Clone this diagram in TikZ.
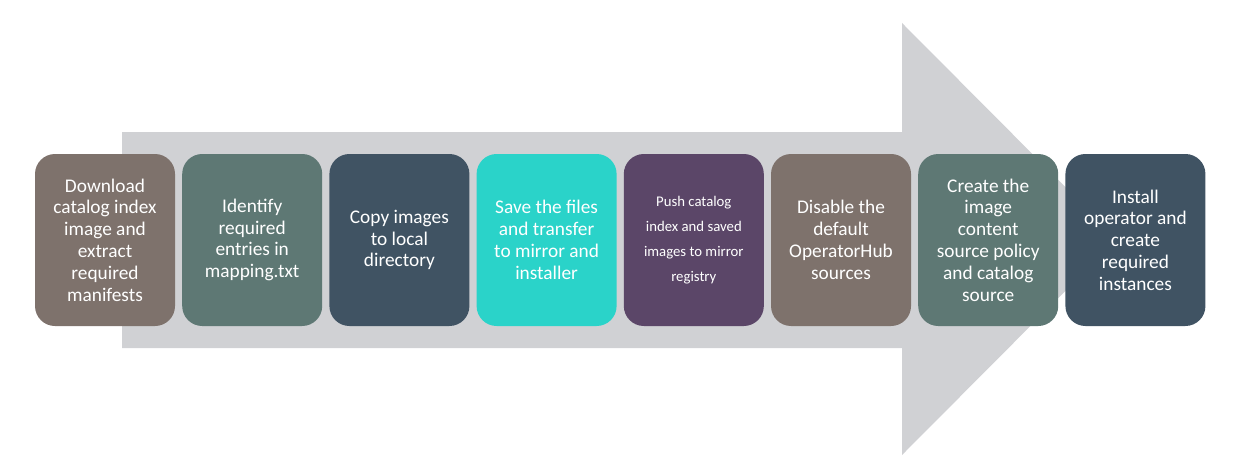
\documentclass[tikz,border=0pt]{standalone}
\usepackage{fontspec}
\setmainfont{Carlito}
\usetikzlibrary{positioning}
\usepackage{xcolor}
\definecolor{arrowgray}{HTML}{D0D1D4}
\definecolor{taupe}{HTML}{7E726C}
\definecolor{sage}{HTML}{5E7874}
\definecolor{slate}{HTML}{405363}
\definecolor{aqua}{HTML}{2AD3C9}
\definecolor{plum}{HTML}{5B4668}

\begin{document}
\begin{tikzpicture}[
  node distance=0.13cm,
  stepbox/.style={rounded corners=0.4cm, minimum width=2.8cm,
              minimum height=3.44cm, inner sep=0pt, text=white,
              font=\fontsize{11}{12.4}\selectfont, align=center},
  bigarrow/.style={fill=arrowgray}
]
  \useasboundingbox (0,0) rectangle (24.8,9.46);
  % background arrow
  \fill[bigarrow] (2.44,2.5) -- (2.44,6.82) -- (18.04,6.82) -- (18.04,9.0)
        -- (22.34,4.68) -- (18.04,0.36) -- (18.04,2.5) -- cycle;

  \node[stepbox, fill=taupe] (dl) at (2.1,4.66)
        {Download\\catalog index\\image and\\extract\\required\\manifests};
  \node[stepbox, fill=sage, right=of dl] (ident)
        {Identify\\required\\entries in\\mapping.txt};
  \node[stepbox, fill=slate, right=of ident] (copy)
        {Copy images\\to local\\directory};
  \node[stepbox, fill=aqua, right=of copy] (save)
        {Save the files\\and transfer\\to mirror and\\installer};
  \node[stepbox, fill=plum, right=of save,
        font=\fontsize{8.4}{14.2}\selectfont] (push)
        {Push catalog\\index and saved\\images to mirror\\registry};
  \node[stepbox, fill=taupe, right=of push] (disable)
        {Disable the\\default\\OperatorHub\\sources};
  \node[stepbox, fill=sage, right=of disable] (create)
        {Create the\\image\\content\\source policy\\and catalog\\source};
  \node[stepbox, fill=slate, right=of create] (install)
        {Install\\operator and\\create\\required\\instances};
\end{tikzpicture}
\end{document}
